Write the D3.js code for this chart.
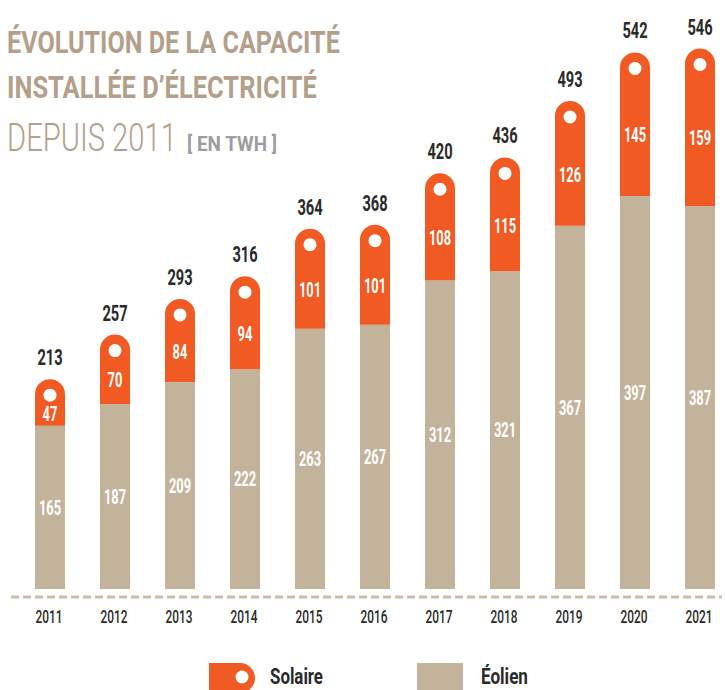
<!DOCTYPE html>
<html><head><meta charset="utf-8">
<script src="https://cdn.jsdelivr.net/npm/d3@7"></script>
<style>body{margin:0;background:#fff;}svg{display:block}</style>
</head><body>
<script>
const years   = ["2011","2012","2013","2014","2015","2016","2017","2018","2019","2020","2021"];
const eolien  = [165,187,209,222,263,267,312,321,367,397,387];
const solaire = [47,70,84,94,101,101,108,115,126,145,159];
const totals  = [213,257,293,316,364,368,420,436,493,542,546];
const seriesNames = ["Solaire","Éolien"];
const titleLines = ["ÉVOLUTION DE LA CAPACITÉ","INSTALLÉE D’ÉLECTRICITÉ","DEPUIS 2011"];
const unitLabel = "[ EN TWH ]";

const W=725,H=690;
const ORANGE="#f15a22", BEIGE="#c4b39b", DARK="#2a2a2a", TITLE="#b39f8a", GREY="#9d9d9f";
const FONT="Roboto, 'DejaVu Sans', sans-serif";

const svg=d3.select("body").append("svg").attr("width",W).attr("height",H);

const x=d3.scalePoint().domain(years).range([50,700]);
const y=d3.scaleLinear().domain([0,595]).range([589,0]);
const bw=30, r=bw/2;

// place text at (ax,ay) and squeeze horizontally to a target width (condensed look)
function squeeze(node, ax, ay, target){
  const t=d3.select(node).attr("x",0).attr("y",0);
  const w=node.getComputedTextLength();
  const k=w>0?Math.min(1,target/w):1;
  t.attr("transform",`translate(${ax},${ay}) scale(${k},1)`);
}
function addText(parent, str, ax, ay, target, opts){
  const t=parent.append("text").attr("font-family",FONT)
    .attr("font-size",opts.size).attr("font-weight",opts.weight||700)
    .attr("fill",opts.fill||DARK).attr("text-anchor",opts.anchor||"start")
    .text(str);
  if(opts.dy) t.attr("dy",opts.dy);
  squeeze(t.node(),ax,ay,target);
  return t;
}

// Title
const tl=svg.append("g");
addText(tl,titleLines[0],7,53,333,{size:32,fill:TITLE});
addText(tl,titleLines[1],7,98,310,{size:32,fill:TITLE});
addText(tl,titleLines[2],7,151,170,{size:39,weight:300,fill:TITLE});
addText(tl,unitLabel,187,151,90,{size:21,fill:GREY});

const rows=years.map((yr,i)=>({yr,eol:eolien[i],sol:solaire[i],tot:totals[i]}));

// Baseline dashed
svg.append("line").attr("x1",11).attr("x2",722).attr("y1",597).attr("y2",597)
  .attr("stroke","#cbbda6").attr("stroke-width",3).attr("stroke-dasharray","8,4");

const bars=svg.append("g");
rows.forEach(d=>{
  const cx=x(d.yr);
  const yb=y(d.eol), yt=y(d.eol+d.sol);
  bars.append("rect").attr("x",cx-r).attr("width",bw)
    .attr("y",yb).attr("height",y(0)-yb).attr("fill",BEIGE);
  bars.append("path").attr("fill",ORANGE)
    .attr("d",`M${cx-r},${yb}L${cx-r},${yt+r}A${r},${r} 0 0 1 ${cx+r},${yt+r}L${cx+r},${yb}Z`);
  bars.append("circle").attr("cx",cx).attr("cy",yt+16).attr("r",6.5).attr("fill","#fff");

  const tot=String(d.tot), sol=String(d.sol), eol=String(d.eol);
  addText(bars,tot,cx,yt-14,tot.length*8.4,{size:22,anchor:"middle"});
  addText(bars,sol,cx,((yt+22)+yb)/2,sol.length*7.4,{size:20,anchor:"middle",fill:"#fff",dy:"0.36em"});
  addText(bars,eol,cx,(yb+y(0))/2,eol.length*7.4,{size:20,anchor:"middle",fill:"#fff",dy:"0.36em"});
  addText(bars,d.yr,cx-1,623,27,{size:18,weight:500,anchor:"middle"});
});

// Legend
const lg=svg.append("g");
const ly=663, lh=30;
lg.append("path").attr("fill",ORANGE)
  .attr("d",`M209,${ly}L${255-lh/2},${ly}A${lh/2},${lh/2} 0 0 1 ${255-lh/2},${ly+lh}L209,${ly+lh}Z`);
lg.append("circle").attr("cx",242).attr("cy",ly+14).attr("r",6.5).attr("fill","#fff");
addText(lg,seriesNames[0],270,684,53,{size:22});
lg.append("rect").attr("x",417).attr("y",ly).attr("width",46).attr("height",lh).attr("fill",BEIGE);
addText(lg,seriesNames[1],481,684,47,{size:22});
</script>
</body></html>
